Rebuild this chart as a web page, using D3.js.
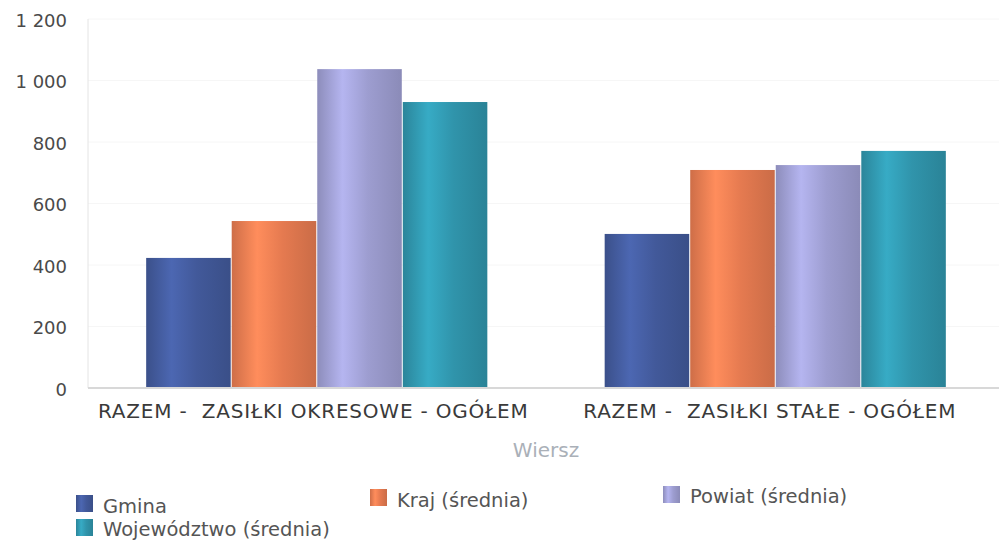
<!DOCTYPE html>
<html>
<head>
<meta charset="utf-8">
<script src="https://cdn.jsdelivr.net/npm/d3@7"></script>
<style>
  body { margin: 0; background: #fff; }
  svg { display: block; }
</style>
</head>
<body>
<svg id="chart" width="999" height="543"></svg>
<script>
var CATEGORIES = ['RAZEM -  ZASIŁKI OKRESOWE - OGÓŁEM', 'RAZEM -  ZASIŁKI STAŁE - OGÓŁEM'];
var SERIES = ['Gmina', 'Kraj (średnia)', 'Powiat (średnia)', 'Województwo (średnia)'];
var VALUES = [
  [423, 543, 1037, 930],
  [501, 709, 725, 771]
];
var Y_TICKS = [0, 200, 400, 600, 800, 1000, 1200];
var COLORS = ['#42599a', '#e57a50', '#9d9dd0', '#3094ab'];

var svg = d3.select('#chart');
var m = { left: 88, right: -6, top: 19, bottom: 155 };
var W = 999, H = 543;
var FONT = '"DejaVu Sans", Verdana, sans-serif';

var x = d3.scaleBand().domain(CATEGORIES).range([m.left, W - m.right]);
var xs = d3.scaleBand().domain(SERIES).range([0, x.bandwidth()]).paddingOuter(0.68);
var y = d3.scaleLinear().domain([0, 1200]).range([H - m.bottom, m.top]);

// cylinder-like gradients
var defs = svg.append('defs');
COLORS.forEach(function(c, i) {
  var g = defs.append('linearGradient').attr('id', 'g' + i)
    .attr('x1', '0%').attr('x2', '100%').attr('y1', '0%').attr('y2', '0%');
  var base = d3.color(c);
  g.append('stop').attr('offset', '0%').attr('stop-color', base.darker(0.3));
  g.append('stop').attr('offset', '30%').attr('stop-color', base.brighter(0.4));
  g.append('stop').attr('offset', '60%').attr('stop-color', base);
  g.append('stop').attr('offset', '100%').attr('stop-color', base.darker(0.35));
});

// faint grid
svg.append('g').selectAll('line').data(Y_TICKS.slice(1)).enter().append('line')
  .attr('x1', m.left).attr('x2', W)
  .attr('y1', function(d) { return y(d); }).attr('y2', function(d) { return y(d); })
  .attr('stroke', '#f6f6f6');

// y axis
var yAxis = svg.append('g').attr('transform', 'translate(' + (m.left - 18) + ',0)')
  .call(d3.axisLeft(y).tickValues(Y_TICKS).tickSize(0)
    .tickFormat(function(d) { return d3.format(',')(d).replace(',', ' '); }));
yAxis.select('.domain').remove();
yAxis.selectAll('text').attr('font-family', FONT)
  .attr('font-size', 18).attr('fill', '#4a4a4a').attr('dy', '0.4em');

svg.append('line').attr('x1', m.left).attr('x2', m.left)
  .attr('y1', y(1200)).attr('y2', y(0)).attr('stroke', '#e4e4e4');

// bars
var groups = svg.append('g').selectAll('g').data(VALUES).enter().append('g')
  .attr('transform', function(d, i) { return 'translate(' + x(CATEGORIES[i]) + ',0)'; });

groups.selectAll('rect').data(function(d) { return d; }).enter().append('rect')
  .attr('x', function(d, i) { return xs(SERIES[i]); })
  .attr('width', xs.bandwidth() - 1)
  .attr('y', function(d) { return y(d); })
  .attr('height', function(d) { return y(0) - y(d); })
  .attr('fill', function(d, i) { return 'url(#g' + i + ')'; });

// baseline
svg.append('line').attr('x1', m.left).attr('x2', W)
  .attr('y1', y(0)).attr('y2', y(0)).attr('stroke', '#d8d8d8').attr('stroke-width', 2);

// x labels
var xAxis = svg.append('g').attr('transform', 'translate(0,' + y(0) + ')')
  .call(d3.axisBottom(x).tickSize(0));
xAxis.select('.domain').remove();
xAxis.selectAll('text').attr('font-family', FONT)
  .attr('font-size', 20).attr('fill', '#3a3a3a').attr('dy', '1.35em')
  .attr('letter-spacing', 0.8)
  .attr('dx', function(d, i) { return i === 1 ? -6 : -4; })
  .style('white-space', 'pre');

svg.append('text').attr('x', 546).attr('y', 457).attr('text-anchor', 'middle')
  .attr('font-family', FONT).attr('font-size', 20)
  .attr('fill', '#aab0b8').text('Wiersz');

// legend
var LEG = [[76, 495, 513], [370, 489, 507], [663, 486, 503], [76, 519, 536]];
var leg = svg.append('g').selectAll('g').data(SERIES).enter().append('g')
  .attr('transform', function(d, i) { return 'translate(' + LEG[i][0] + ',' + LEG[i][1] + ')'; });
leg.append('rect').attr('width', 17).attr('height', 17)
  .attr('fill', function(d, i) { return 'url(#g' + i + ')'; });
leg.append('text').attr('x', 27)
  .attr('y', function(d, i) { return LEG[i][2] - LEG[i][1]; })
  .attr('font-family', FONT).attr('font-size', 19.5)
  .attr('fill', '#555').text(function(d) { return d; });
</script>
</body>
</html>
